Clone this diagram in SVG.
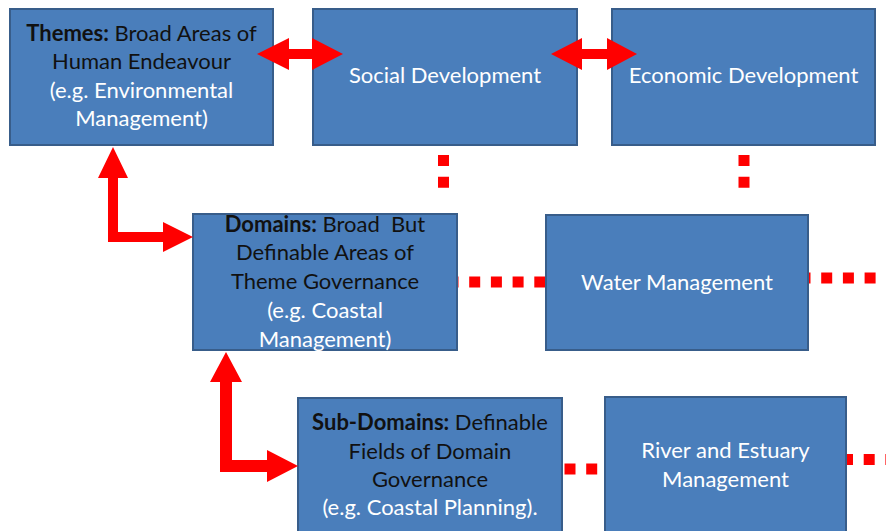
<svg xmlns="http://www.w3.org/2000/svg" width="886" height="531" viewBox="0 0 886 531">
<style>
.box{fill:#4A7EBB;stroke:#385D8A;stroke-width:2}
.t{font-family:Lato,"Liberation Sans",sans-serif;font-size:22px;text-anchor:middle}
.k{fill:#111}
.w{fill:#FFFFFF}
.b{font-weight:bold}
.dot{stroke:#FF0000;stroke-width:11;fill:none;stroke-dasharray:11 10.7}
.arr{fill:#FF0000}
</style>
<rect width="886" height="531" fill="#FFFFFF"/>
<g id="themes">
<rect class="box" x="10" y="9" width="263" height="136"/>
<text class="t k" x="141.5" y="41"><tspan class="b">Themes:</tspan> Broad Areas of</text>
<text class="t k" x="141.5" y="69">Human Endeavour</text>
<text class="t w" x="141.5" y="98">(e.g. Environmental</text>
<text class="t w" x="141.5" y="126">Management)</text>
</g>
<g id="social">
<rect class="box" x="313" y="9" width="264" height="136"/>
<text class="t w" x="445" y="83">Social Development</text>
</g>
<g id="economic">
<rect class="box" x="612" y="9" width="263" height="136"/>
<text class="t w" x="743.5" y="83">Economic Development</text>
</g>
<g id="domains">
<rect class="box" x="193" y="214" width="264" height="136"/>
<text class="t k" x="325" y="232"><tspan class="b">Domains:</tspan> Broad&#160; But</text>
<text class="t k" x="325" y="260">Definable Areas of</text>
<text class="t k" x="325" y="289">Theme Governance</text>
<text class="t w" x="325" y="318">(e.g. Coastal</text>
<text class="t w" x="325" y="347">Management)</text>
</g>
<g id="water">
<rect class="box" x="546" y="215" width="262" height="135"/>
<text class="t w" x="677" y="290">Water Management</text>
</g>
<g id="subdomains">
<rect class="box" x="298" y="398" width="264" height="140"/>
<text class="t k" x="430" y="430"><tspan class="b">Sub-Domains:</tspan> Definable</text>
<text class="t k" x="430" y="459">Fields of Domain</text>
<text class="t k" x="430" y="487">Governance</text>
<text class="t w" x="430" y="515">(e.g. Coastal Planning).</text>
</g>
<g id="river">
<rect class="box" x="605" y="397" width="241" height="140"/>
<text class="t w" x="725.5" y="458">River and Estuary</text>
<text class="t w" x="725.5" y="487">Management</text>
</g>
<g id="connectors">
<line class="dot" x1="443.5" y1="155" x2="443.5" y2="189"/>
<line class="dot" x1="744" y1="155" x2="744" y2="189"/>
<line class="dot" x1="458" y1="282" x2="545" y2="282" stroke-dashoffset="10.5"/>
<line class="dot" x1="809" y1="278" x2="886" y2="278" stroke-dashoffset="9.5"/>
<line class="dot" x1="563" y1="469" x2="604" y2="469" stroke-dashoffset="20.2"/>
<line class="dot" x1="847" y1="459.5" x2="886" y2="459.5" stroke-dashoffset="5"/>
<polygon class="arr" points="257,54 289,38 289,49 312,49 312,38 343,54 312,70 312,59 289,59 289,70"/>
<polygon class="arr" points="551,54 582,38 582,49 607,49 607,38 637,54 607,70 607,59 582,59 582,70"/>
<polygon class="arr" points="113,147 128,178 118,178 118,232 163,232 163,222 193,237 163,252 163,242 108,242 108,178 98,178"/>
<polygon class="arr" points="226,352 242,382 232,382 232,460 267,460 267,450 298,466 267,482 267,472 220,472 220,382 210,382"/>
</g>
</svg>
